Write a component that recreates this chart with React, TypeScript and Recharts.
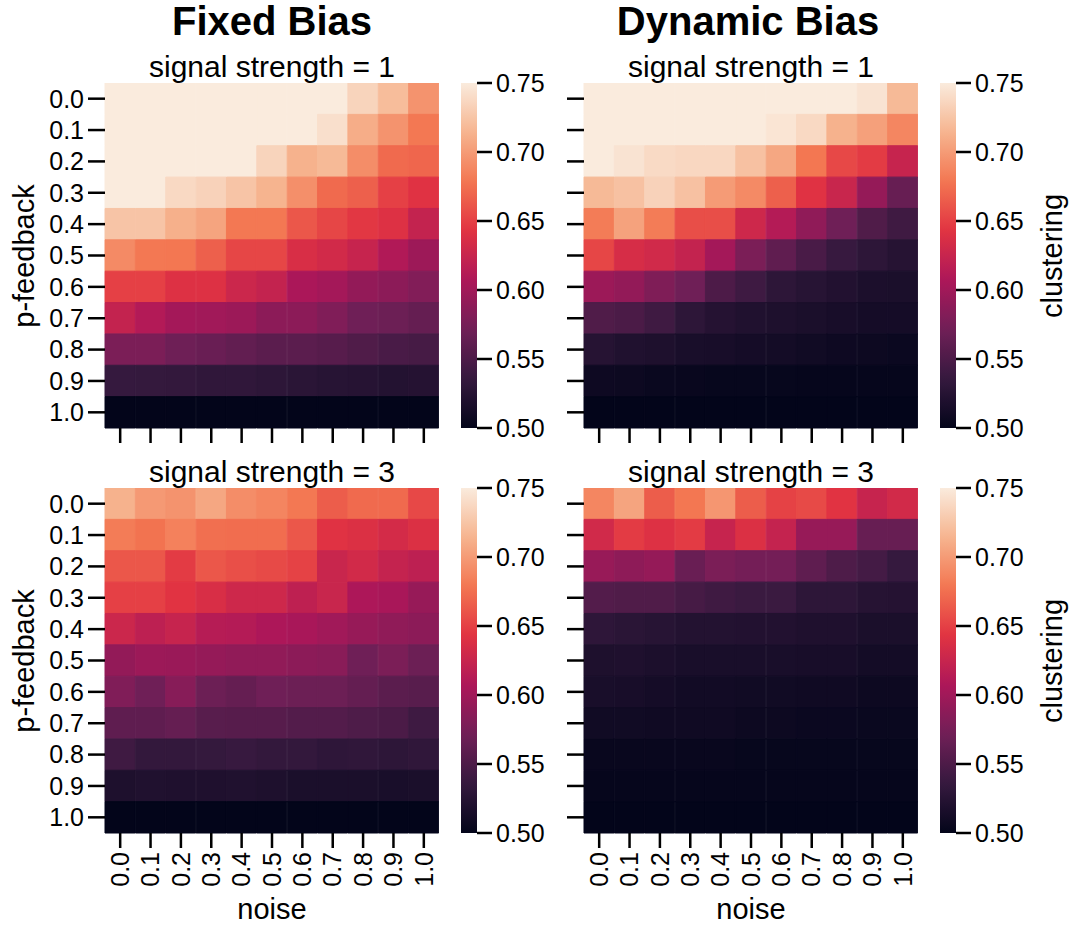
import React from "react";
import { Bar, BarChart, Cell, XAxis, YAxis } from "recharts";

const noiseLabels = ["0.0", "0.1", "0.2", "0.3", "0.4", "0.5", "0.6", "0.7", "0.8", "0.9", "1.0"];
const feedbackLabels = ["0.0", "0.1", "0.2", "0.3", "0.4", "0.5", "0.6", "0.7", "0.8", "0.9", "1.0"];
const colorbarTicks = [0.5, 0.55, 0.6, 0.65, 0.7, 0.75];

// rows = p-feedback (top to bottom), columns = noise
const fixedS1 = [
  [0.76, 0.76, 0.76, 0.76, 0.76, 0.76, 0.76, 0.76, 0.735, 0.72, 0.695],
  [0.76, 0.76, 0.76, 0.76, 0.76, 0.76, 0.76, 0.742, 0.71, 0.695, 0.68],
  [0.76, 0.76, 0.76, 0.76, 0.76, 0.735, 0.713, 0.718, 0.692, 0.672, 0.67],
  [0.755, 0.755, 0.738, 0.734, 0.725, 0.714, 0.693, 0.672, 0.667, 0.65, 0.642],
  [0.725, 0.725, 0.712, 0.705, 0.68, 0.68, 0.662, 0.653, 0.645, 0.64, 0.622],
  [0.69, 0.68, 0.679, 0.667, 0.653, 0.653, 0.637, 0.632, 0.624, 0.61, 0.598],
  [0.65, 0.65, 0.64, 0.64, 0.628, 0.622, 0.606, 0.602, 0.592, 0.588, 0.582],
  [0.622, 0.611, 0.602, 0.6, 0.597, 0.588, 0.588, 0.581, 0.571, 0.569, 0.565],
  [0.578, 0.578, 0.57, 0.567, 0.563, 0.559, 0.559, 0.556, 0.552, 0.548, 0.546],
  [0.536, 0.535, 0.534, 0.532, 0.532, 0.53, 0.528, 0.526, 0.525, 0.523, 0.524],
  [0.5, 0.5, 0.5, 0.5, 0.5, 0.5, 0.5, 0.5, 0.5, 0.5, 0.5],
];

const dynamicS1 = [
  [0.76, 0.76, 0.76, 0.76, 0.76, 0.76, 0.76, 0.76, 0.76, 0.745, 0.718],
  [0.76, 0.76, 0.76, 0.76, 0.76, 0.76, 0.746, 0.738, 0.713, 0.703, 0.688],
  [0.752, 0.745, 0.739, 0.737, 0.737, 0.723, 0.707, 0.679, 0.654, 0.647, 0.624],
  [0.718, 0.723, 0.734, 0.723, 0.7, 0.69, 0.667, 0.642, 0.626, 0.593, 0.566],
  [0.682, 0.704, 0.682, 0.657, 0.657, 0.629, 0.612, 0.59, 0.571, 0.552, 0.542],
  [0.653, 0.635, 0.631, 0.622, 0.602, 0.578, 0.562, 0.548, 0.537, 0.53, 0.525],
  [0.597, 0.592, 0.58, 0.571, 0.55, 0.541, 0.53, 0.526, 0.522, 0.518, 0.517],
  [0.552, 0.549, 0.542, 0.53, 0.524, 0.521, 0.519, 0.517, 0.515, 0.513, 0.513],
  [0.525, 0.521, 0.519, 0.516, 0.515, 0.513, 0.512, 0.51, 0.508, 0.507, 0.506],
  [0.508, 0.507, 0.505, 0.504, 0.503, 0.503, 0.503, 0.502, 0.502, 0.502, 0.502],
  [0.5, 0.5, 0.5, 0.5, 0.5, 0.5, 0.5, 0.5, 0.5, 0.5, 0.5],
];

const fixedS3 = [
  [0.713, 0.699, 0.695, 0.707, 0.692, 0.687, 0.68, 0.665, 0.672, 0.672, 0.654],
  [0.682, 0.677, 0.685, 0.675, 0.674, 0.674, 0.662, 0.642, 0.639, 0.633, 0.639],
  [0.662, 0.662, 0.647, 0.662, 0.658, 0.655, 0.651, 0.626, 0.632, 0.623, 0.618],
  [0.65, 0.65, 0.643, 0.637, 0.629, 0.629, 0.619, 0.626, 0.607, 0.605, 0.594],
  [0.628, 0.618, 0.624, 0.613, 0.612, 0.607, 0.605, 0.6, 0.594, 0.59, 0.588],
  [0.592, 0.597, 0.596, 0.593, 0.591, 0.591, 0.588, 0.586, 0.571, 0.578, 0.569],
  [0.581, 0.571, 0.585, 0.569, 0.565, 0.571, 0.569, 0.569, 0.564, 0.559, 0.557],
  [0.561, 0.561, 0.565, 0.557, 0.556, 0.556, 0.554, 0.554, 0.551, 0.549, 0.541],
  [0.542, 0.534, 0.534, 0.535, 0.537, 0.534, 0.534, 0.531, 0.532, 0.53, 0.532],
  [0.519, 0.521, 0.52, 0.52, 0.521, 0.519, 0.517, 0.517, 0.517, 0.516, 0.517],
  [0.5, 0.5, 0.5, 0.5, 0.5, 0.5, 0.5, 0.5, 0.5, 0.5, 0.5],
];

const dynamicS3 = [
  [0.688, 0.705, 0.665, 0.679, 0.697, 0.665, 0.651, 0.655, 0.643, 0.624, 0.632],
  [0.631, 0.647, 0.64, 0.647, 0.624, 0.639, 0.623, 0.594, 0.594, 0.566, 0.566],
  [0.595, 0.589, 0.593, 0.567, 0.578, 0.574, 0.574, 0.561, 0.551, 0.545, 0.536],
  [0.554, 0.552, 0.552, 0.546, 0.542, 0.539, 0.539, 0.53, 0.53, 0.525, 0.524],
  [0.531, 0.528, 0.526, 0.523, 0.523, 0.522, 0.522, 0.52, 0.52, 0.517, 0.517],
  [0.519, 0.52, 0.518, 0.516, 0.516, 0.516, 0.516, 0.515, 0.515, 0.512, 0.512],
  [0.516, 0.515, 0.513, 0.511, 0.511, 0.51, 0.51, 0.509, 0.509, 0.507, 0.507],
  [0.51, 0.51, 0.509, 0.509, 0.509, 0.507, 0.507, 0.506, 0.506, 0.505, 0.505],
  [0.504, 0.504, 0.504, 0.504, 0.504, 0.503, 0.503, 0.503, 0.503, 0.503, 0.503],
  [0.502, 0.502, 0.502, 0.502, 0.502, 0.502, 0.502, 0.502, 0.502, 0.502, 0.502],
  [0.5, 0.5, 0.5, 0.5, 0.5, 0.5, 0.5, 0.5, 0.5, 0.5, 0.5],
];

// seaborn "rocket" samples
const rocket: [number, string][] = [
  [0, "#03051a"],
  [1 / 7, "#35193e"],
  [2 / 7, "#701f57"],
  [3 / 7, "#ad1759"],
  [4 / 7, "#e13342"],
  [5 / 7, "#f37651"],
  [6 / 7, "#f6b48f"],
  [1, "#faebdd"],
];

const VMIN = 0.5;
const VMAX = 0.75;
const FONT = "'Liberation Sans', Arial, Helvetica, sans-serif";

const hex = (h: string) => [1, 3, 5].map(i => parseInt(h.slice(i, i + 2), 16));

function rocketColor(t: number) {
  t = Math.max(0, Math.min(1, t));
  for (let i = 1; i < rocket.length; i++) {
    if (t <= rocket[i][0]) {
      const [t0, c0] = rocket[i - 1];
      const [t1, c1] = rocket[i];
      const f = (t - t0) / (t1 - t0);
      const a = hex(c0);
      const b = hex(c1);
      const rgb = a.map((v, k) => Math.round(v + (b[k] - v) * f));
      return `rgb(${rgb[0]},${rgb[1]},${rgb[2]})`;
    }
  }
  return rocket[rocket.length - 1][1];
}

const colorFor = (v: number) => rocketColor((v - VMIN) / (VMAX - VMIN));

const PLOT_W = 334;
const PLOT_H = 345;
const CB_PAD = 16;
const tickStyle = { fill: "#000", fontSize: 25, fontFamily: FONT };
const tickLine = { stroke: "#000", strokeWidth: 2.5 };
const blank = () => "";

function NoiseTick({ x, y, payload }: any) {
  return (
    <text
      x={x}
      y={y}
      transform={`rotate(-90, ${x}, ${y})`}
      textAnchor="end"
      dy="0.35em"
      fill="#000"
      fontSize={25}
      fontFamily={FONT}
    >
      {payload.value}
    </text>
  );
}

function Heatmap({ matrix, left, top, yLabels, xLabels }: { matrix: number[][]; left: number; top: number; yLabels: boolean; xLabels: boolean }) {
  const yWidth = yLabels ? 105 : 40;
  const xHeight = xLabels ? 70 : 20;
  const data = noiseLabels.map(n => {
    const row: Record<string, any> = { noise: n };
    feedbackLabels.forEach((_, r) => (row["r" + r] = 1));
    return row;
  });
  return (
    <div style={{ position: "absolute", left: left - yWidth, top }}>
      <BarChart
        width={yWidth + PLOT_W}
        height={PLOT_H + xHeight}
        data={data}
        margin={{ top: 0, right: 0, bottom: 0, left: 0 }}
        barCategoryGap={0}
        barGap={0}
      >
        <XAxis
          dataKey="noise"
          interval={0}
          axisLine={false}
          tickSize={15}
          tickMargin={4}
          tickLine={tickLine}
          height={xHeight}
          tick={xLabels ? <NoiseTick /> : tickStyle}
          tickFormatter={xLabels ? undefined : blank}
        />
        <YAxis
          type="number"
          domain={[0, feedbackLabels.length]}
          reversed
          ticks={feedbackLabels.map((_, i) => i + 0.5)}
          tickFormatter={yLabels ? (v: number) => feedbackLabels[Math.floor(v)] : blank}
          interval={0}
          axisLine={false}
          tickSize={17}
          tickMargin={4}
          tickLine={tickLine}
          width={yWidth}
          tick={tickStyle}
        />
        {feedbackLabels.map((p, r) => (
          <Bar key={p} dataKey={"r" + r} stackId="cells" isAnimationActive={false}>
            {noiseLabels.map((n, c) => (
              <Cell key={n} fill={colorFor(matrix[r][c])} stroke={colorFor(matrix[r][c])} strokeWidth={1} />
            ))}
          </Bar>
        ))}
      </BarChart>
    </div>
  );
}

function Colorbar({ left, top, id }: { left: number; top: number; id: string }) {
  const stops = Array.from({ length: 41 }, (_, i) => i / 40);
  return (
    <div style={{ position: "absolute", left, top: top - CB_PAD }}>
      <BarChart
        width={16 + 90}
        height={PLOT_H + 2 * CB_PAD}
        data={[{ name: "c", range: [VMIN, VMAX] }]}
        margin={{ top: CB_PAD, right: 0, bottom: CB_PAD, left: 0 }}
        barCategoryGap={0}
      >
        <defs>
          <linearGradient id={id} x1="0" y1="0" x2="0" y2="1">
            {stops.map(s => (
              <stop key={s} offset={s} stopColor={rocketColor(1 - s)} />
            ))}
          </linearGradient>
        </defs>
        <XAxis dataKey="name" hide />
        <YAxis
          orientation="right"
          type="number"
          domain={[VMIN, VMAX]}
          ticks={colorbarTicks}
          interval={0}
          tickFormatter={(v: number) => v.toFixed(2)}
          axisLine={false}
          tickSize={15}
          tickMargin={4}
          tickLine={tickLine}
          tick={tickStyle}
          width={90}
        />
        <Bar dataKey="range" fill={`url(#${id})`} isAnimationActive={false} />
      </BarChart>
    </div>
  );
}

function Label({ text, x, y, size, bold, rotate }: { text: string; x: number; y: number; size: number; bold?: boolean; rotate?: boolean }) {
  return (
    <div
      style={{
        position: "absolute",
        left: x,
        top: y,
        transform: `translate(-50%, -50%)${rotate ? " rotate(-90deg)" : ""}`,
        fontSize: size,
        fontWeight: bold ? "bold" : "normal",
        fontFamily: FONT,
        whiteSpace: "nowrap",
        lineHeight: 1,
        color: "#000",
      }}
    >
      {text}
    </div>
  );
}

export default function App() {
  const panels = [
    { matrix: fixedS1, left: 105, top: 83, yLabels: true, xLabels: false },
    { matrix: dynamicS1, left: 584, top: 83, yLabels: false, xLabels: false },
    { matrix: fixedS3, left: 105, top: 488, yLabels: true, xLabels: true },
    { matrix: dynamicS3, left: 584, top: 488, yLabels: false, xLabels: true },
  ];
  return (
    <div style={{ position: "absolute", left: 0, top: 0, width: 1080, height: 939, background: "#fff", overflow: "hidden" }}>
      {panels.map((p, i) => (
        <Heatmap key={i} {...p} />
      ))}
      <Colorbar left={461} top={83} id="cb1" />
      <Colorbar left={940} top={83} id="cb2" />
      <Colorbar left={461} top={488} id="cb3" />
      <Colorbar left={940} top={488} id="cb4" />

      <Label text="Fixed Bias" x={272} y={21} size={40} bold />
      <Label text="Dynamic Bias" x={748} y={21} size={40} bold />
      <Label text="signal strength = 1" x={272} y={67} size={30} />
      <Label text="signal strength = 1" x={751} y={67} size={30} />
      <Label text="signal strength = 3" x={272} y={472} size={30} />
      <Label text="signal strength = 3" x={751} y={472} size={30} />
      <Label text="p-feedback" x={24} y={256} size={29} rotate />
      <Label text="p-feedback" x={24} y={661} size={29} rotate />
      <Label text="noise" x={272} y={909} size={29} />
      <Label text="noise" x={751} y={909} size={29} />
      <Label text="clustering" x={1052} y={256} size={29} rotate />
      <Label text="clustering" x={1052} y={661} size={29} rotate />
    </div>
  );
}
